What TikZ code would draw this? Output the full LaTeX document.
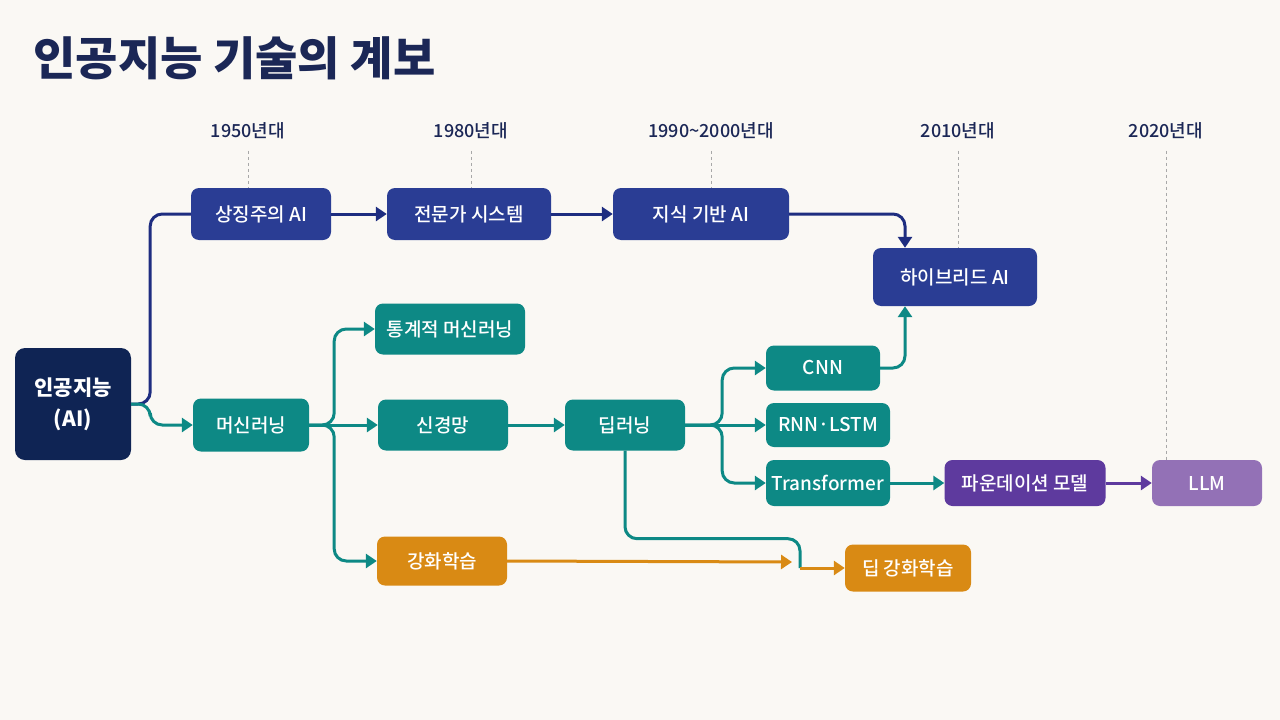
\documentclass[tikz,border=0pt]{standalone}
\usepackage{fontspec}
\setmainfont{Noto Sans CJK KR}
\newfontfamily\medfont{Noto Sans CJK KR Medium}
\usepackage{tikz}
\usetikzlibrary{arrows.meta}

\definecolor{bgcream}{HTML}{FAF8F4}
\definecolor{titlenavy}{HTML}{1B2756}
\definecolor{ainavy}{HTML}{0F2454}
\definecolor{symblue}{HTML}{2A3D94}
\definecolor{symline}{HTML}{1E2D80}
\definecolor{mlteal}{HTML}{0D8985}
\definecolor{rlorange}{HTML}{D98A14}
\definecolor{fmpurple}{HTML}{5E3A9E}
\definecolor{llmlilac}{HTML}{9371B6}
\definecolor{tickgray}{HTML}{A8A8A8}

\begin{document}
\begin{tikzpicture}[x=1pt, y=-1pt,
	box/.style={rounded corners=8pt, text=white, inner sep=0pt, font=\fontsize{19}{21}\medfont},
	era/.style={text=titlenavy, font=\fontsize{18}{20}\medfont},
	arr/.style={-{Triangle[length=11pt,width=14pt]}, line width=3pt, rounded corners=12pt},
	link/.style={line width=3pt, rounded corners=12pt},
	tick/.style={tickgray, dashed, line width=0.8pt}]
	\useasboundingbox (0,0) rectangle (1280,720);
	\fill[bgcream] (0,0) rectangle (1280,720);
	\node[anchor=west, text=titlenavy, font=\fontsize{46}{50}\selectfont\bfseries] (title) at (30,58) {인공지능 기술의 계보};
	% decades
	\node[era] (d1) at (248,131) {1950년대};
	\node[era] (d2) at (471,131) {1980년대};
	\node[era] (d3) at (711,131) {1990\textasciitilde 2000년대};
	\node[era] (d4) at (958,131) {2010년대};
	\node[era] (d5) at (1166,131) {2020년대};
	% boxes
	\node[box, fill=ainavy, minimum width=116pt, minimum height=112pt, align=center, rounded corners=10pt,
		font=\fontsize{21}{31}\selectfont\bfseries] (ai) at (73,404) {인공지능\\(AI)};
	\node[box, fill=symblue, minimum width=140pt, minimum height=52pt] (sym) at (261,214) {상징주의 AI};
	\node[box, fill=symblue, minimum width=164pt, minimum height=52pt] (exp) at (469,214) {전문가 시스템};
	\node[box, fill=symblue, minimum width=176pt, minimum height=52pt] (kb) at (701,214) {지식 기반 AI};
	\node[box, fill=symblue, minimum width=164pt, minimum height=58pt] (hy) at (955,277) {하이브리드 AI};
	\node[box, fill=mlteal, minimum width=150pt, minimum height=51pt] (stat) at (450,329) {통계적 머신러닝};
	\node[box, fill=mlteal, minimum width=116pt, minimum height=53pt] (ml) at (251,425) {머신러닝};
	\node[box, fill=mlteal, minimum width=130pt, minimum height=51pt] (nn) at (443,425) {신경망};
	\node[box, fill=mlteal, minimum width=120pt, minimum height=51pt] (dl) at (625,425) {딥러닝};
	\node[box, fill=mlteal, minimum width=114pt, minimum height=45pt] (cnn) at (823,368) {CNN};
	\node[box, fill=mlteal, minimum width=124pt, minimum height=44pt] (rnn) at (828,425) {RNN·LSTM};
	\node[box, fill=mlteal, minimum width=124pt, minimum height=46pt] (tf) at (828,483) {Transformer};
	\node[box, fill=fmpurple, minimum width=161pt, minimum height=46pt] (fm) at (1025,483) {파운데이션 모델};
	\node[box, fill=llmlilac, minimum width=110pt, minimum height=46pt] (llm) at (1207,483) {LLM};
	\node[box, fill=rlorange, minimum width=130pt, minimum height=49pt] (rl) at (442,561) {강화학습};
	\node[box, fill=rlorange, minimum width=126pt, minimum height=47pt] (drl) at (908,568) {딥 강화학습};
	\coordinate (rlend) at (792,562);
	\coordinate (drljoin) at (800,568);
	% timeline ticks
	\foreach \d/\b in {d1/sym, d2/exp, d3/kb, d4/hy, d5/llm}
		\draw[tick] ([yshift=-8pt]\d.south) -- (\d.south |- \b.north);
	% symbolic branch
	\draw[link, symline] (ai.east) -- ++(19,0) |- (sym.west);
	\foreach \from/\to in {sym/exp, exp/kb}
		\draw[arr, symline] (\from) -- (\to);
	\draw[arr, symline] (kb.east) -| ([xshift=-50pt]hy.north);
	% learning branch
	\draw[arr, mlteal] (ai.east) -- ++(19,0) |- (ml.west);
	\draw[arr, mlteal] (ml.east) -- ++(25,0) |- (stat.west);
	\draw[arr, mlteal] (ml.east) -- ++(25,0) |- (rl.west);
	\draw[arr, mlteal] (dl.east) -- ++(37,0) |- (cnn.west);
	\draw[arr, mlteal] (dl.east) -- ++(37,0) |- (tf.west);
	\foreach \from/\to in {ml/nn, nn/dl, dl/rnn, tf/fm}
		\draw[arr, mlteal] (\from) -- (\to);
	\draw[arr, mlteal] (cnn.east) -| ([xshift=-50pt]hy.south);
	\draw[arr, fmpurple] (fm) -- (llm);
	% reinforcement
	\draw[link, mlteal] (dl.south) -- ++(0,88) -| (drljoin);
	\draw[arr, rlorange] (rl.east) -- (rlend);
	\draw[arr, rlorange] (drljoin) -- (drl.west);
\end{tikzpicture}
\end{document}
